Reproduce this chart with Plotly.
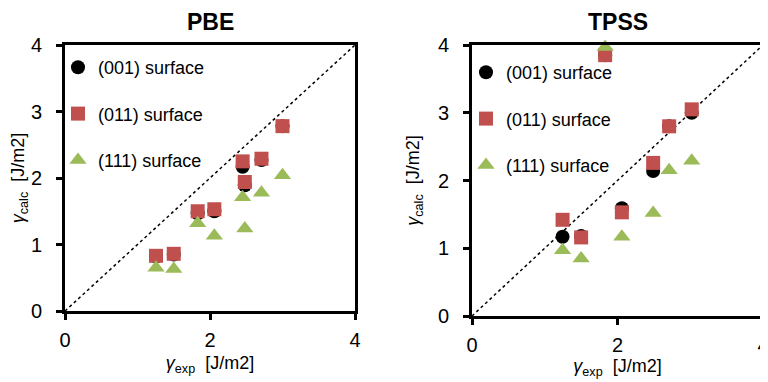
import plotly.graph_objects as go

# ---- data ----
pbe_x = [1.255, 1.50, 1.83, 2.06, 2.45, 2.48, 2.71, 3.00]
pbe_001 = [0.82, 0.85, 1.47, 1.50, 2.17, 1.89, 2.27, 2.78]
pbe_011 = [0.83, 0.86, 1.50, 1.53, 2.25, 1.94, 2.29, 2.78]
pbe_111 = [0.65, 0.63, 1.32, 1.13, 1.71, 1.24, 1.78, 2.04]

tpss_x = [1.245, 1.50, 1.83, 2.06, 2.49, 2.71, 3.02]
tpss_001 = [1.17, 1.18, 3.85, 1.59, 2.14, 2.80, 3.00]
tpss_011 = [1.42, 1.16, 3.85, 1.53, 2.26, 2.80, 3.05]
tpss_111 = [0.97, 0.85, 3.97, 1.17, 1.52, 2.15, 2.29]

diag = [0, 4]
ticks = [0, 1, 2, 3, 4]
xticks = [0, 2, 4]
series_names = ["(001) surface", "(011) surface", "(111) surface"]
titles = ["PBE", "TPSS"]

FONT = "Liberation Sans Narrow, Arial Narrow, Liberation Sans, Arial, sans-serif"
RED = "#C0504D"
GREEN = "#9BBB59"

W, H = 768, 382
OFF = 8  # page body margin


def px(xs):
    return (xs - OFF) / W


def py(ys):
    return (H - (ys - OFF)) / H


fig = go.Figure()

panels = [
    (pbe_x, pbe_001, pbe_011, pbe_111, "x", "y", "legend"),
    (tpss_x, tpss_001, tpss_011, tpss_111, "x2", "y2", "legend2"),
]
for xs, a, b, c, xa, ya, lg in panels:
    fig.add_trace(go.Scatter(x=diag, y=diag, mode="lines", xaxis=xa, yaxis=ya,
                             line=dict(color="black", width=1.5, dash="dot"),
                             showlegend=False, hoverinfo="skip"))
    fig.add_trace(go.Scatter(x=xs, y=a, mode="markers", name=series_names[0], xaxis=xa, yaxis=ya,
                             legend=lg, legendgroup=lg + "a", cliponaxis=False,
                             marker=dict(symbol="circle", size=14, color="black")))
    fig.add_trace(go.Scatter(x=xs, y=b, mode="markers", name=series_names[1], xaxis=xa, yaxis=ya,
                             legend=lg, legendgroup=lg + "b", cliponaxis=False,
                             marker=dict(symbol="square", size=14, color=RED)))
    fig.add_trace(go.Scatter(x=xs, y=c, mode="markers", name=series_names[2], xaxis=xa, yaxis=ya,
                             legend=lg, legendgroup=lg + "c", cliponaxis=False,
                             marker=dict(symbol="triangle-up", size=15, color=GREEN)))

axis_common = dict(range=[0, 4], showgrid=False, zeroline=False, showline=True,
                   linecolor="black", linewidth=3, mirror=True, ticks="outside",
                   ticklen=6, tickwidth=3, tickcolor="black", automargin=False,
                   tickfont=dict(family=FONT, size=20, color="black"))

xtitle = "<i>γ</i><sub>exp</sub>  [J/m2]"
ytitle = "<i>γ</i><sub>calc</sub>  [J/m2]"
tfont = dict(family=FONT, size=18)

fig.update_layout(
    width=W, height=H,
    margin=dict(l=0, r=0, t=0, b=0, autoexpand=False),
    paper_bgcolor="white", plot_bgcolor="white",
    font=dict(family=FONT, color="black"),
    xaxis=dict(domain=[px(65), px(355)], anchor="y", tickvals=xticks, ticklabelstandoff=3,
               title=dict(text=xtitle, font=tfont, standoff=7), **axis_common),
    yaxis=dict(domain=[py(311), py(45)], anchor="x", tickvals=ticks, ticklabelstandoff=10,
               title=dict(text=ytitle, font=tfont, standoff=6), **axis_common),
    xaxis2=dict(domain=[px(472), px(763)], anchor="y2", tickvals=xticks, ticklabelstandoff=3,
                title=dict(text=xtitle, font=tfont, standoff=5), **axis_common),
    yaxis2=dict(domain=[py(316), py(45)], anchor="x2", tickvals=ticks, ticklabelstandoff=10,
                title=dict(text=ytitle, font=tfont, standoff=14), **axis_common),
    legend=dict(x=px(58), y=py(49), xanchor="left", yanchor="top",
                bgcolor="rgba(0,0,0,0)", font=dict(family=FONT, size=18),
                tracegroupgap=20, itemwidth=30),
    legend2=dict(x=px(466), y=py(54), xanchor="left", yanchor="top",
                 bgcolor="rgba(0,0,0,0)", font=dict(family=FONT, size=18),
                 tracegroupgap=20, itemwidth=30),
    annotations=[
        dict(text="<b>" + titles[0] + "</b>", x=px(210), y=py(22), xref="paper", yref="paper",
             xanchor="center", yanchor="middle", showarrow=False,
             font=dict(family="Liberation Sans, Arial, sans-serif", size=23)),
        dict(text="<b>" + titles[1] + "</b>", x=px(618), y=py(22), xref="paper", yref="paper",
             xanchor="center", yanchor="middle", showarrow=False,
             font=dict(family="Liberation Sans, Arial, sans-serif", size=23)),
    ],
)

fig.write_html("out.html")
